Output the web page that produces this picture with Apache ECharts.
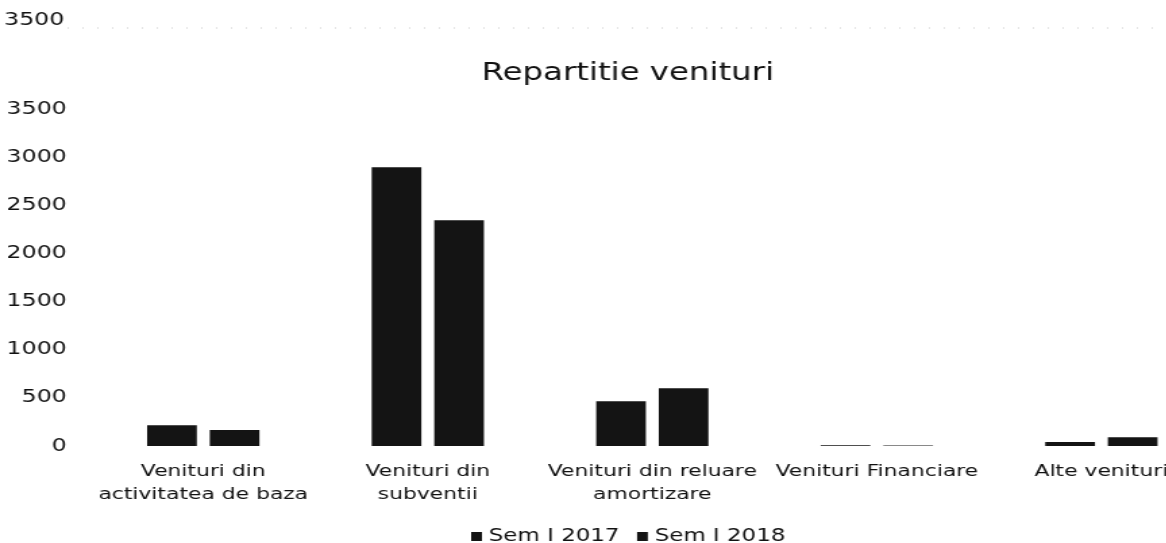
<!DOCTYPE html>
<html><head><meta charset="utf-8">
<script src="https://cdn.jsdelivr.net/npm/echarts@6/dist/echarts.min.js"></script>
<style>html,body{margin:0;padding:0;background:#fff;overflow:hidden;width:1166px;height:543px}
#c{width:899px;height:570px;transform:scaleX(1.35);transform-origin:0 0}</style>
</head><body><div id="c"></div>
<script>
const categories = ['Venituri din\nactivitatea de baza', 'Venituri din\nsubventii', 'Venituri din reluare\namortizare', 'Venituri Financiare', 'Alte venituri'];
const sem2017 = [215, 2895, 465, 8, 42];
const sem2018 = [165, 2345, 600, 6, 92];
const seriesNames = ['Sem I 2017', 'Sem I 2018'];
const yTicks = {min: 0, max: 3500, interval: 500};

const chart = echarts.init(document.getElementById('c'));
const font = 'DejaVu Sans';
chart.setOption({
  animation: false,
  backgroundColor: '#fff',
  title: {text: 'Repartitie venituri', left: 460, top: 57, textAlign: 'center',
    textStyle: {fontFamily: font, fontSize: 24, fontWeight: 'normal', color: '#111'}},
  legend: {data: seriesNames, left: 349, top: 528, padding: 0, itemWidth: 8, itemHeight: 9, itemGap: 13,
    icon: 'rect', textStyle: {fontFamily: font, fontSize: 17, color: '#111'}},
  grid: {left: 67.4, top: 109, right: 0, bottom: 124},
  xAxis: {type: 'category', data: categories,
    axisLine: {show: false}, axisTick: {show: false},
    axisLabel: {interval: 0, fontFamily: font, fontSize: 16.2, color: '#111', lineHeight: 23, margin: 14}},
  yAxis: {type: 'value', min: yTicks.min, max: yTicks.max, interval: yTicks.interval,
    splitLine: {show: false}, axisLine: {show: false}, axisTick: {show: false},
    axisLabel: {fontFamily: font, fontSize: 17.5, color: '#111', margin: 18, formatter: v => String(v)}},
  series: [
    {name: seriesNames[0], type: 'bar', data: sem2017, barGap: '26%', barCategoryGap: '50%', itemStyle: {color: '#141414'}},
    {name: seriesNames[1], type: 'bar', data: sem2018, itemStyle: {color: '#141414'}}
  ],
  graphic: [
    {type: 'text', left: 3, top: 11, style: {text: '3500', fontFamily: font, fontSize: 17.5, fill: '#111'}},
    {type: 'line', shape: {x1: 50, y1: 28, x2: 860, y2: 28}, style: {stroke: '#ccc', lineWidth: 1, lineDash: [1, 10]}}
  ]
});
</script></body></html>
